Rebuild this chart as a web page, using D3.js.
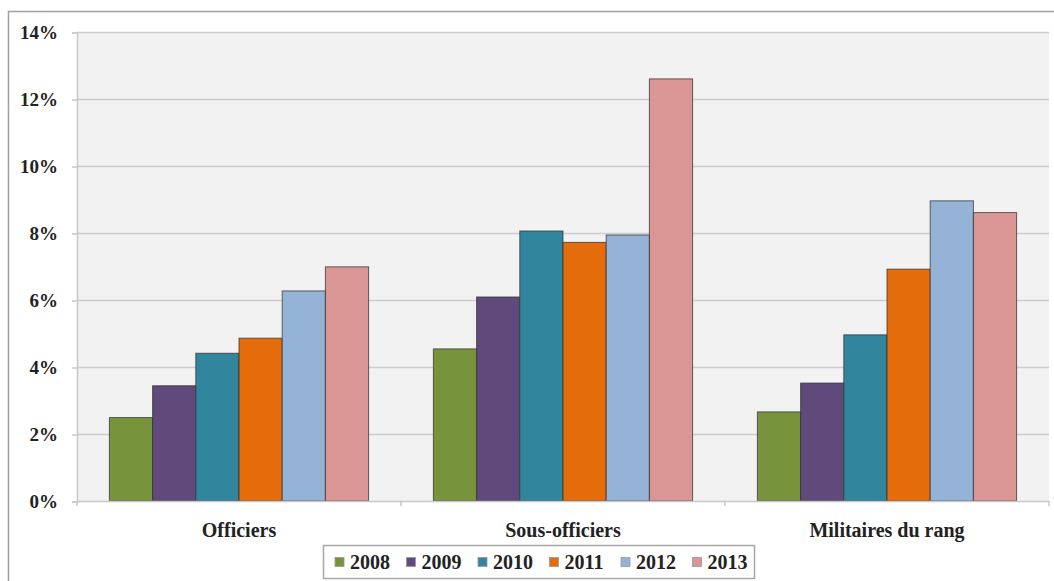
<!DOCTYPE html>
<html><head><meta charset="utf-8">
<script src="https://cdn.jsdelivr.net/npm/d3@7"></script>
<style>body{margin:0;background:#fff}svg{display:block}</style>
</head><body>
<svg id="c" width="1054" height="581"></svg>
<script>
const categories = ["Officiers", "Sous-officiers", "Militaires du rang"];
const years = ["2008", "2009", "2010", "2011", "2012", "2013"];
const v2008 = [2.49, 4.54, 2.66];
const v2009 = [3.44, 6.09, 3.52];
const v2010 = [4.41, 8.06, 4.96];
const v2011 = [4.86, 7.72, 6.92];
const v2012 = [6.27, 7.94, 8.96];
const v2013 = [6.99, 12.6, 8.61];
const colors = ["#77933C", "#604A7B", "#31859C", "#E46C0A", "#95B3D7", "#D99694"];
const yTicks = [0, 2, 4, 6, 8, 10, 12, 14];

const series = [v2008, v2009, v2010, v2011, v2012, v2013];
const svg = d3.select("#c");
const font = "'Liberation Serif','Times New Roman',serif";

// outer frame
svg.append("rect").attr("x", 8.5).attr("y", 11.5).attr("width", 1100).attr("height", 700)
  .attr("fill", "#fff").attr("stroke", "#a0a0a0").attr("stroke-width", 1.5);

const L = 77, R = 1049, T = 32, B = 501;
const x0 = d3.scaleBand().domain(categories).range([L, R]).paddingInner(0).paddingOuter(0);
const bw = x0.bandwidth() / 7.5;
const x1 = d3.scaleBand().domain(years).range([0, bw * 6]);
const y = d3.scaleLinear().domain([0, 14]).range([B, T]);

svg.append("rect").attr("x", L).attr("y", T).attr("width", R - L).attr("height", B - T).attr("fill", "#f2f2f2");

svg.append("g").selectAll("line").data(yTicks.filter(d => d > 0)).join("line")
  .attr("x1", L).attr("x2", R).attr("y1", d => y(d) + 0.5).attr("y2", d => y(d) + 0.5)
  .attr("stroke", "#cdcdcd").attr("stroke-width", 1.5);

const yAxis = d3.axisLeft(y).tickValues(yTicks).tickFormat(d => d + "%").tickSize(5).tickPadding(14);
const gy = svg.append("g").attr("transform", `translate(${L},0.5)`).call(yAxis);
gy.attr("font-family", null);
gy.select(".domain").attr("stroke", "#c8c8c8").attr("stroke-width", 1.5);
gy.selectAll(".tick line").attr("stroke", "#c8c8c8").attr("stroke-width", 1.5);
gy.selectAll("text").style("font-family", font).style("font-size", "19px").style("font-weight", "bold").attr("fill", "#222");

const groups = svg.append("g").selectAll("g").data(categories).join("g")
  .attr("transform", c => `translate(${x0(c) + bw * 0.75},0)`);
groups.selectAll("rect").data((c, i) => years.map((yr, j) => ({ yr, j, v: series[j][i] }))).join("rect")
  .attr("x", d => x1(d.yr)).attr("width", x1.bandwidth())
  .attr("y", d => y(d.v)).attr("height", d => B - y(d.v))
  .attr("fill", d => colors[d.j]).attr("stroke", "rgba(50,50,50,0.75)").attr("stroke-width", 1);

// x axis
const xAxis = d3.axisBottom(x0).tickSize(0).tickPadding(22);
const gx = svg.append("g").attr("transform", `translate(0,${B})`).call(xAxis);
gx.attr("font-family", null);
gx.select(".domain").attr("stroke", "#c8c8c8").attr("stroke-width", 1.5);
gx.selectAll("text").style("font-family", font).style("font-size", "20px").style("font-weight", "bold").attr("fill", "#222");
svg.append("g").selectAll("line").data([L, ...categories.map(c => x0(c) + x0.bandwidth())]).join("line")
  .attr("x1", d => d).attr("x2", d => d).attr("y1", B).attr("y2", B + 5)
  .attr("stroke", "#c8c8c8").attr("stroke-width", 1.5);

// legend
const lg = svg.append("g");
lg.append("rect").attr("x", 323.5).attr("y", 545.5).attr("width", 431).attr("height", 33)
  .attr("fill", "#fff").attr("stroke", "#a8a8a8").attr("stroke-width", 1.5);
const items = lg.selectAll("g").data(years).join("g").attr("transform", (d, i) => `translate(${335 + i * 71.5},562)`);
items.append("rect").attr("x", 0).attr("y", -4.5).attr("width", 9).attr("height", 9)
  .attr("fill", (d, i) => colors[i]).attr("stroke", "#999").attr("stroke-width", 0.8);
items.append("text").attr("x", 15).attr("y", 7).text(d => d)
  .style("font-family", font).style("font-size", "20px").style("font-weight", "bold").attr("fill", "#222");
</script>
</body></html>
